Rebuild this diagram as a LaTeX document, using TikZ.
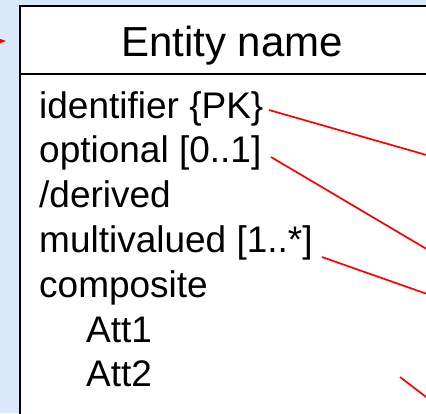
\documentclass[tikz,border=0pt]{standalone}
\usepackage{fontspec}
\setmainfont{Liberation Sans}
\usetikzlibrary{arrows.meta}
\definecolor{bgblue}{HTML}{DAE8FC}
\tikzset{
  attr/.style={anchor=base west, inner sep=0pt, font=\fontsize{37}{44}\selectfont},
  hdr/.style={anchor=base, inner sep=0pt, font=\fontsize{42}{50}\selectfont},
  redline/.style={draw=red, line width=1.7pt},
  boxline/.style={draw=black, line width=2pt}
}
\begin{document}
\begin{tikzpicture}[x=1pt,y=-1pt]
\useasboundingbox (0,0) rectangle (426,413);
\clip (0,0) rectangle (426,413);
\fill[bgblue] (0,0) rectangle (426,413);
\draw[boxline, fill=white] (20,6) rectangle (460,440);
\coordinate (hl) at (20,74);
\coordinate (hr) at (460,74);
\draw[boxline] (hl) -- (hr);
\node[hdr] (title) at (232,56.7) {Entity name};
\node[attr] (a1) at (39,118) {identifier \{PK\}};
\node[attr] (a2) at (39,162.5) {optional [0..1]};
\node[attr] (a3) at (39,207) {/derived};
\node[attr] (a4) at (39,252) {multivalued [1..*]};
\node[attr] (a5) at (39,297) {composite};
\node[attr] (a6) at (86,342) {Att1};
\node[attr] (a7) at (86,386.5) {Att2};
\coordinate (s1) at (269,110);
\coordinate (e1) at (430,156);
\coordinate (s2) at (271,157);
\coordinate (e2) at (430,251);
\coordinate (s3) at (322,257);
\coordinate (e3) at (430,295);
\coordinate (s4) at (400,377);
\coordinate (e4) at (430,400);
\draw[redline] (s1) -- (e1);
\draw[redline] (s2) -- (e2);
\draw[redline] (s3) -- (e3);
\draw[redline] (s4) -- (e4);
\coordinate (la) at (-20,41);
\coordinate (lb) at (6,41);
\draw[redline, -{Stealth[length=7pt,width=5pt]}] (la) -- (lb);
\end{tikzpicture}
\end{document}
